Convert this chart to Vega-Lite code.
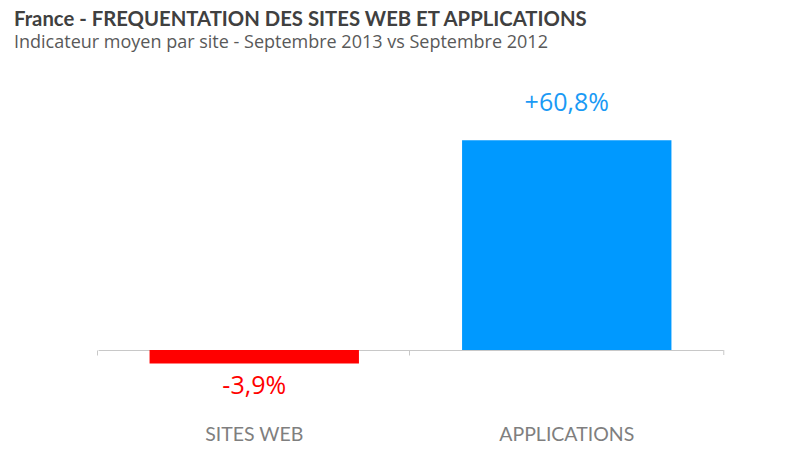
{
  "$schema": "https://vega.github.io/schema/vega-lite/v6.json",
  "width": 625,
  "height": 276,
  "autosize": "none",
  "padding": {"left": 98, "top": 74, "right": 77, "bottom": 100},
  "background": "white",
  "title": {
    "text": "France - FREQUENTATION DES SITES WEB ET APPLICATIONS",
    "subtitle": "Indicateur moyen par site - Septembre 2013 vs Septembre 2012",
    "anchor": "start",
    "frame": "group",
    "dx": -84,
    "offset": 22,
    "font": "Lato",
    "fontSize": 20.3,
    "fontWeight": "bold",
    "color": "#404040",
    "subtitleFont": "Open Sans",
    "subtitleFontSize": 18,
    "subtitleColor": "#595959",
    "subtitlePadding": 4
  },
  "data": {
    "values": [
      {"cat": "SITES WEB", "value": -3.9, "label": "-3,9%"},
      {"cat": "APPLICATIONS", "value": 60.8, "label": "+60,8%"}
    ]
  },
  "encoding": {
    "x": {
      "field": "cat",
      "type": "nominal",
      "sort": null,
      "scale": {"paddingInner": 0.33, "paddingOuter": 0.165},
      "axis": {
        "title": null,
        "orient": "bottom",
        "offset": 0,
        "domainColor": "#c8c8c8",
        "tickColor": "#c8c8c8",
        "tickSize": 5,
        "bandPosition": -0.25,
        "labelPadding": 70,
        "labelFont": "Lato",
        "labelFontSize": 19.5,
        "labelColor": "#7f7f7f",
        "labelAngle": 0
      }
    }
  },
  "layer": [
    {
      "mark": {"type": "bar"},
      "encoding": {
        "y": {"field": "value", "type": "quantitative", "scale": {"domain": [0, 80], "nice": false}, "axis": null},
        "color": {
          "field": "cat", "type": "nominal",
          "scale": {"domain": ["SITES WEB", "APPLICATIONS"], "range": ["#ff0000", "#0099ff"]},
          "legend": null
        }
      }
    },
    {
      "transform": [{"filter": "datum.value >= 0"}],
      "mark": {"type": "text", "dy": -37, "baseline": "middle", "font": "Open Sans", "fontSize": 25, "color": "#1a9af5"},
      "encoding": {
        "y": {"field": "value", "type": "quantitative"},
        "text": {"field": "label"}
      }
    },
    {
      "transform": [{"filter": "datum.value < 0"}],
      "mark": {"type": "text", "dy": 23, "baseline": "middle", "font": "Open Sans", "fontSize": 25, "color": "#ff0000"},
      "encoding": {
        "y": {"field": "value", "type": "quantitative"},
        "text": {"field": "label"}
      }
    },
    {
      "transform": [{"filter": "datum.cat == 'APPLICATIONS'"}],
      "mark": {"type": "rule", "color": "#c8c8c8"},
      "encoding": {
        "x": {"field": "cat", "type": "nominal", "bandPosition": 1.25},
        "y": {"datum": 0},
        "y2": {"datum": -1.45}
      }
    }
  ],
  "config": {
    "view": {"stroke": null}
  }
}
